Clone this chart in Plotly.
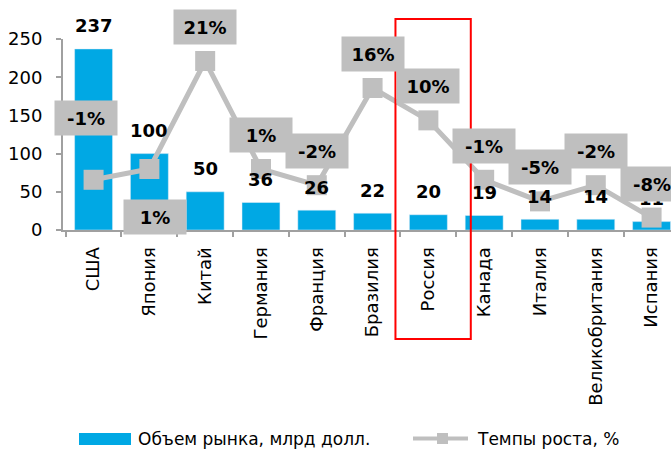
import plotly.graph_objects as go

# ---- data ----
countries = ["США", "Япония", "Китай", "Германия", "Франция", "Бразилия",
             "Россия", "Канада", "Италия", "Великобритания", "Испания"]
market_size = [237, 100, 50, 36, 26, 22, 20, 19, 14, 14, 11]
growth_pct = [-1, 1, 21, 1, -2, 16, 10, -1, -5, -2, -8]
bar_name = "Объем рынка, млрд долл."
line_name = "Темпы роста, %"
highlight = "Россия"

# ---- style ----
BLUE = "#00A8E4"
GREY = "#BFBFBF"
AXIS = "#A0A0A0"
FONT = "DejaVu Sans"
W, H = 671, 450
L, R, T, B = 63, 0, 39, 220
PW, PH = W - L - R, H - T - B

# label offsets (xshift, yshift) in px; default places box above the marker
label_shift = {"США": (-8, 62), "Япония": (6, -48)}
default_shift = (0, 34)


def xp(px):
    return (px - L) / PW


def yp(py):
    return (H - B - py) / PH


fig = go.Figure()
fig.add_trace(go.Bar(
    x=countries, y=market_size, name=bar_name, marker_color=BLUE,
    width=0.68, showlegend=False, yaxis="y"))
fig.add_trace(go.Scatter(
    x=countries, y=growth_pct, name=line_name, mode="lines+markers",
    line=dict(color=GREY, width=5),
    marker=dict(symbol="square", size=20, color=GREY),
    showlegend=False, yaxis="y2", cliponaxis=False))

ann = []
for c, v in zip(countries, market_size):
    ann.append(dict(x=c, y=v, xref="x", yref="y", text=str(v), showarrow=False,
                    yshift=23, yanchor="middle",
                    font=dict(family=FONT, size=18, color="black", weight="bold")))
for c, v in zip(countries, growth_pct):
    dx, dy = label_shift.get(c, default_shift)
    ann.append(dict(x=c, y=v, xref="x", yref="y2", text=f"{v}%", showarrow=False,
                    xshift=dx, yshift=dy, yanchor="middle", xanchor="center",
                    bgcolor=GREY, width=48, height=20, borderpad=7,
                    font=dict(family=FONT, size=18, color="black", weight="bold")))

# custom legend
ann.append(dict(x=xp(136), y=yp(439), xref="paper", yref="paper", text=bar_name,
                showarrow=False, xanchor="left", yanchor="middle",
                font=dict(family=FONT, size=17, color="black")))
ann.append(dict(x=xp(475), y=yp(439), xref="paper", yref="paper", text=line_name,
                showarrow=False, xanchor="left", yanchor="middle",
                font=dict(family=FONT, size=17, color="black")))

ri = countries.index(highlight)
shapes = [
    dict(type="rect", xref="x", yref="paper", x0=ri - 0.59, x1=ri + 0.76,
         y0=yp(339), y1=yp(19), line=dict(color="#FF0000", width=2)),
    dict(type="rect", xref="paper", yref="paper", x0=xp(79), x1=xp(131),
         y0=yp(445), y1=yp(433), fillcolor=BLUE, line=dict(width=0)),
    dict(type="line", xref="paper", yref="paper", x0=xp(413), x1=xp(468),
         y0=yp(438.5), y1=yp(438.5), line=dict(color=GREY, width=4)),
    dict(type="rect", xref="paper", yref="paper", x0=xp(437), x1=xp(448),
         y0=yp(444), y1=yp(433), fillcolor=GREY, line=dict(width=0)),
]

fig.update_layout(
    width=W, height=H, margin=dict(l=L, r=R, t=T, b=B, autoexpand=False),
    paper_bgcolor="white", plot_bgcolor="white",
    font=dict(family=FONT, size=18, color="black"),
    bargap=0.32,
    xaxis=dict(type="category", range=[-0.548, 10.348], showline=True,
               linecolor=AXIS, linewidth=2, ticks="outside", tickson="boundaries",
               ticklen=5, tickwidth=2, tickcolor=AXIS, tickangle=-90,
               ticklabelstandoff=8, showgrid=False,
               tickfont=dict(family=FONT, size=18, color="black")),
    yaxis=dict(range=[0, 250], dtick=50, showline=True, linecolor=AXIS,
               linewidth=2, ticks="outside", ticklen=5, tickwidth=2,
               tickcolor=AXIS, showgrid=False, zeroline=False,
               ticklabelstandoff=10,
               tickfont=dict(family=FONT, size=18, color="black")),
    yaxis2=dict(range=[-10.3, 25.07], overlaying="y", side="right",
                visible=False, showgrid=False, zeroline=False),
    annotations=ann, shapes=shapes, showlegend=False,
)

fig.write_html(
    "out.html",
    config={"displayModeBar": False},
    post_script="document.body.style.margin='0';document.body.style.overflow='hidden';",
)
